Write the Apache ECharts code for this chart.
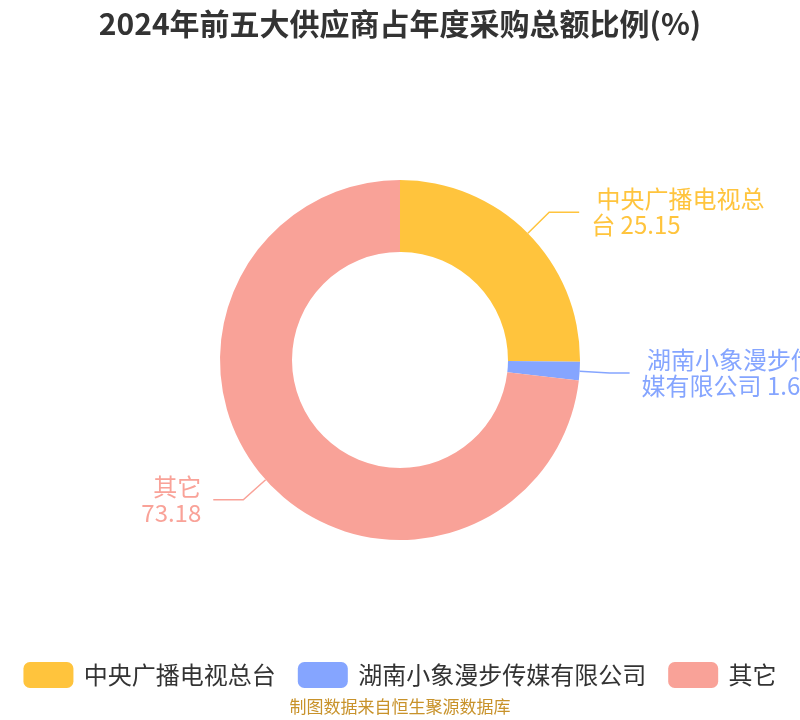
<!DOCTYPE html>
<html>
<head>
<meta charset="utf-8">
<script src="https://cdn.jsdelivr.net/npm/echarts@6/dist/echarts.min.js"></script>
<style>
html,body{margin:0;padding:0;background:#fff;}
#main{width:800px;height:720px;}
</style>
</head>
<body>
<div id="main"></div>
<script>
const titleText = '2024年前五大供应商占年度采购总额比例(%)';
const sourceText = '制图数据来自恒生聚源数据库';
const categories = ['中央广播电视总台', '湖南小象漫步传媒有限公司', '其它'];
const values = [25.15, 1.67, 73.18];
const colors = ['#FFC43D', '#85A5FF', '#F9A298'];
const labelBreakAt = [7, 7, 2];
const lineLength2 = [30, 20, 30];

const FONT = '"Noto Sans CJK SC", "Noto Sans", sans-serif';
const chart = echarts.init(document.getElementById('main'));

const data = categories.map((name, i) => ({
  name: name,
  value: values[i],
  itemStyle: { color: colors[i] },
  label: { color: colors[i] },
  labelLine: { length2: lineLength2[i], lineStyle: { color: colors[i] } }
}));

chart.setOption({
  animation: false,
  title: {
    text: titleText,
    left: 'center',
    top: 4,
    textStyle: { fontFamily: FONT, fontSize: 30, fontWeight: 'bold', color: '#333333' }
  },
  graphic: [{
    type: 'text',
    left: 'center',
    top: 698,
    style: { text: sourceText, fontFamily: FONT, fontSize: 17, fill: '#C8922A' }
  }],
  legend: {
    bottom: 27,
    left: 'center',
    itemWidth: 50,
    itemHeight: 26,
    itemGap: 22,
    icon: 'roundRect',
    formatter: n => ' ' + n,
    textStyle: { fontFamily: FONT, fontSize: 24, color: '#333333' },
    data: categories
  },
  series: [{
    type: 'pie',
    center: ['50%', '50%'],
    radius: ['30%', '50%'],
    startAngle: 90,
    clockwise: true,
    avoidLabelOverlap: false,
    label: {
      show: true,
      fontFamily: FONT,
      fontSize: 24,
      lineHeight: 26,
      distanceToLabelLine: 12,
      formatter: p => {
        const k = labelBreakAt[p.dataIndex];
        const s = p.name + ' ' + p.value;
        const lead = p.dataIndex < 2 ? ' ' : '';
        return lead + s.slice(0, k) + '\n' + s.slice(k).trim();
      }
    },
    labelLine: { show: true, length: 30, length2: 30, lineStyle: { width: 1.5 } },
    emphasis: { disabled: true },
    data: data
  }]
});
</script>
</body>
</html>
